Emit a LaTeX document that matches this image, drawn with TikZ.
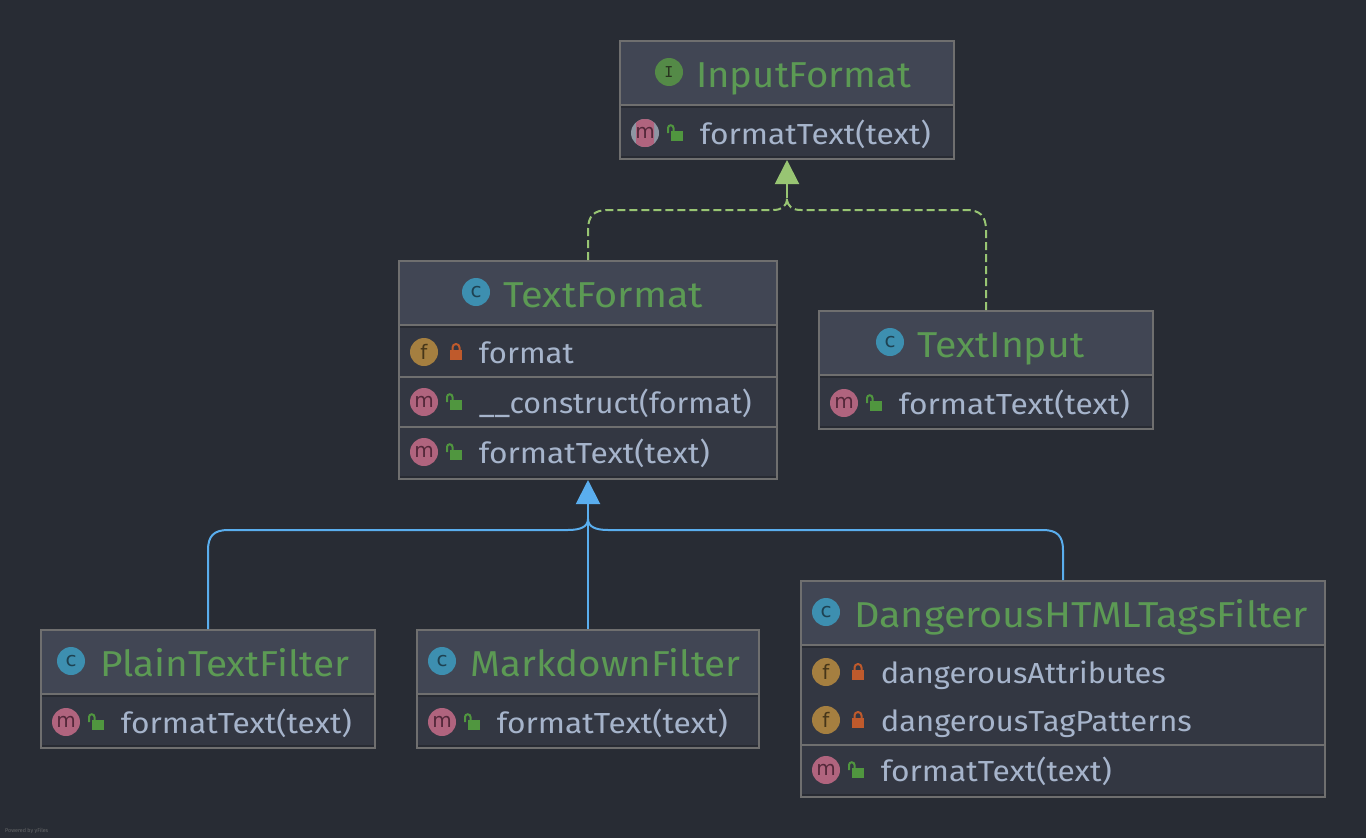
\documentclass[tikz,border=0pt]{standalone}
\usepackage{fontspec}
\usepackage{graphicx}
\setmainfont{Fira Sans}
\newfontfamily\iconfont{DejaVu Sans}
\newfontfamily\iconmono{DejaVu Sans Mono}
\usetikzlibrary{arrows.meta}
\definecolor{bgc}{HTML}{282C34}
\definecolor{hdrc}{HTML}{414654}
\definecolor{bodyc}{HTML}{333742}
\definecolor{darkc}{HTML}{282B33}
\definecolor{bordc}{HTML}{6F6F6F}
\definecolor{titlec}{HTML}{5C9A54}
\definecolor{memc}{HTML}{A6B4CB}
\definecolor{icong}{HTML}{548A47}
\definecolor{iconc}{HTML}{3D8FB0}
\definecolor{iconf}{HTML}{A57F40}
\definecolor{iconm}{HTML}{B0647E}
\definecolor{lockg}{HTML}{50963F}
\definecolor{lockr}{HTML}{BF5A2C}
\definecolor{greenl}{HTML}{98C573}
\definecolor{bluel}{HTML}{5AAEEE}
\definecolor{iconmtext}{HTML}{54283A}
\definecolor{iconftext}{HTML}{463619}
\definecolor{iconctext}{HTML}{1E4252}
\definecolor{iconitext}{HTML}{28331F}
\definecolor{ringc}{HTML}{8E96A3}
\tikzset{
  x=1pt,y=-1pt,
  umlbox/.style={draw=bordc,line width=2pt,rectangle,inner sep=0pt},
  sepline/.style={draw=bordc,line width=2pt},
  titletext/.style={anchor=base west,inner sep=0pt,text=titlec,font=\fontsize{36}{36}\selectfont},
  memtext/.style={anchor=base west,inner sep=0pt,text=memc,font=\fontsize{29}{29}\selectfont},
  iconbase/.style={circle,minimum size=28pt,inner sep=0pt,font=\iconfont\fontsize{20}{20}\selectfont},
  impl/.style={draw=greenl,line width=2pt,dash pattern=on 8pt off 4pt},
  implsolid/.style={draw=greenl,line width=2pt,-{Triangle[length=24pt,width=24pt]}},
  ext/.style={draw=bluel,line width=2pt},
  extsolid/.style={draw=bluel,line width=2pt,-{Triangle[length=24pt,width=24pt]}}
}
% name x1 y1 x2 y2 header-bottom
\newcommand{\classbox}[6]{%
  \pgfmathsetmacro{\cx}{(#2+#4)/2}\pgfmathsetmacro{\cy}{(#3+#5)/2}%
  \pgfmathsetmacro{\bw}{#4-#2}\pgfmathsetmacro{\bh}{#5-#3}%
  \fill[bodyc] (#2,#3) rectangle (#4,#5);
  \fill[hdrc] (#2,#3) rectangle (#4,#6);
  \fill[darkc] (#2,#6+1) rectangle (#4,#6+3);
  \fill[darkc] (#2,#5-3) rectangle (#4,#5-1);
  \draw[sepline] (#2,#6) -- (#4,#6);
  \node[umlbox,minimum width=\bw pt,minimum height=\bh pt] (#1) at (\cx,\cy) {};
}
\newcommand{\sepat}[3]{\draw[sepline] (#1,#3) -- (#2,#3);}
\newcommand{\iconat}[6]{\node[iconbase,fill=#3,text=#4] (#1) at (#5,#6) {#2};}
\newcommand{\lockclosed}[2]{%
  \fill[lockr] (#1,#2-2) rectangle (#1+12,#2+8);
  \draw[lockr,line width=2pt] (#1+2.5,#2-1) -- (#1+2.5,#2-4.5) arc[start angle=180,end angle=0,radius=3.5pt] -- (#1+9.5,#2-1);
}
\newcommand{\lockopen}[2]{%
  \fill[lockg] (#1,#2-2) rectangle (#1+12,#2+8);
  \draw[lockg,line width=2pt] (#1-3,#2) -- (#1-3,#2-5) arc[start angle=180,end angle=0,radius=2.75pt] -- (#1+2.5,#2-2);
}
\newcommand{\methodrow}[5]{%
  \iconat{#1i}{m}{iconm}{iconmtext}{#2+25}{#3}
  \lockopen{#2+51}{#3}
  \node[memtext] (#1t) at (#2+79.6,#3+11) {\resizebox{#4pt}{\height}{#5}};
}
\newcommand{\fieldrow}[5]{%
  \iconat{#1i}{f}{iconf}{iconftext}{#2+25}{#3}
  \lockclosed{#2+51}{#3}
  \node[memtext] (#1t) at (#2+79.6,#3+11) {\resizebox{#4pt}{\height}{#5}};
}
\newcommand{\titlerow}[8]{%
  \iconat{#1i}{#2}{#3}{#4}{#5}{#6}
  \node[titletext] (#1t) at (#7-1,#6+15) {#8};
}
\begin{document}
\begin{tikzpicture}
\useasboundingbox (0,0) rectangle (1366,838);
\fill[bgc] (0,0) rectangle (1366,838);

% InputFormat
\classbox{inputformat}{620}{41}{954}{159}{105}
\titlerow{ifh}{\iconmono\fontsize{15}{15}\selectfont I}{icong}{iconitext}{669}{72}{697}{\resizebox{215pt}{\height}{InputFormat}}
\node[circle,fill=ringc,minimum size=28pt,inner sep=0pt] (ifmback) at (645,133) {};
\begin{scope}
  \clip (636,119) rectangle (654,147);
  \fill[iconm] (645,133) circle[radius=14pt];
\end{scope}
\node[iconbase,text=iconmtext] (ifmi) at (645,133) {m};
\lockopen{671}{133}
\node[memtext] (ifmt) at (699.6,144) {\resizebox{231pt}{\height}{formatText(text)}};

% TextFormat
\classbox{textformat}{399}{261}{777}{479}{325}
\sepat{399}{777}{377}
\sepat{399}{777}{427}
\titlerow{tfh}{c}{iconc}{iconctext}{476}{292}{504}{\resizebox{200pt}{\height}{TextFormat}}
\fieldrow{tff}{399}{352}{95}{format}
\methodrow{tfc}{399}{402}{273}{\_\_construct(format)}
\methodrow{tfm}{399}{452}{231}{formatText(text)}

% TextInput
\classbox{textinput}{819}{311}{1153}{429}{375}
\titlerow{tih}{c}{iconc}{iconctext}{890}{342}{918}{\resizebox{167pt}{\height}{TextInput}}
\methodrow{tim}{819}{403}{231}{formatText(text)}

% PlainTextFilter
\classbox{plain}{41}{630}{375}{748}{694}
\titlerow{pth}{c}{iconc}{iconctext}{71}{661}{101}{\resizebox{249pt}{\height}{PlainTextFilter}}
\methodrow{ptm}{41}{722}{231}{formatText(text)}

% MarkdownFilter
\classbox{markdown}{417}{630}{759}{748}{694}
\titlerow{mdh}{c}{iconc}{iconctext}{442}{661}{471}{\resizebox{270pt}{\height}{MarkdownFilter}}
\methodrow{mdm}{417}{722}{231}{formatText(text)}

% DangerousHTMLTagsFilter
\classbox{danger}{801}{581}{1325}{797}{645}
\sepat{801}{1325}{745}
\titlerow{dgh}{c}{iconc}{iconctext}{826}{612}{855}{\resizebox{454pt}{\height}{DangerousHTMLTagsFilter}}
\fieldrow{dga}{801}{672}{285}{dangerousAttributes}
\fieldrow{dgt}{801}{720}{311}{dangerousTagPatterns}
\methodrow{dgm}{801}{770}{231}{formatText(text)}

% Connectors
\coordinate (gj) at (787,198);
\coordinate (bj) at (588,519);
\draw[impl] (textformat.north) -- (588,230) .. controls (588,216) and (594,210) .. (608,210) -- (773,210) .. controls (781,210) and (787,207) .. (gj);
\draw[impl] (textinput.north) -- (986,230) .. controls (986,216) and (980,210) .. (966,210) -- (801,210) .. controls (793,210) and (787,207) .. (gj);
\draw[implsolid] (gj) -- (inputformat.south);
\draw[ext] (plain.north) -- (208,550) .. controls (208,536) and (214,530) .. (228,530) -- (568,530) .. controls (580,530) and (588,527) .. (bj);
\draw[ext] (danger.north) -- (1063,550) .. controls (1063,536) and (1057,530) .. (1043,530) -- (608,530) .. controls (596,530) and (588,527) .. (bj);
\draw[extsolid] (markdown.north) -- (textformat.south);

\node[anchor=base west,inner sep=0pt,text=gray!70!bgc,font=\fontsize{5.5}{5.5}\selectfont] (powered) at (5,832) {\resizebox{43pt}{\height}{Powered by yFiles}};
\end{tikzpicture}
\end{document}
